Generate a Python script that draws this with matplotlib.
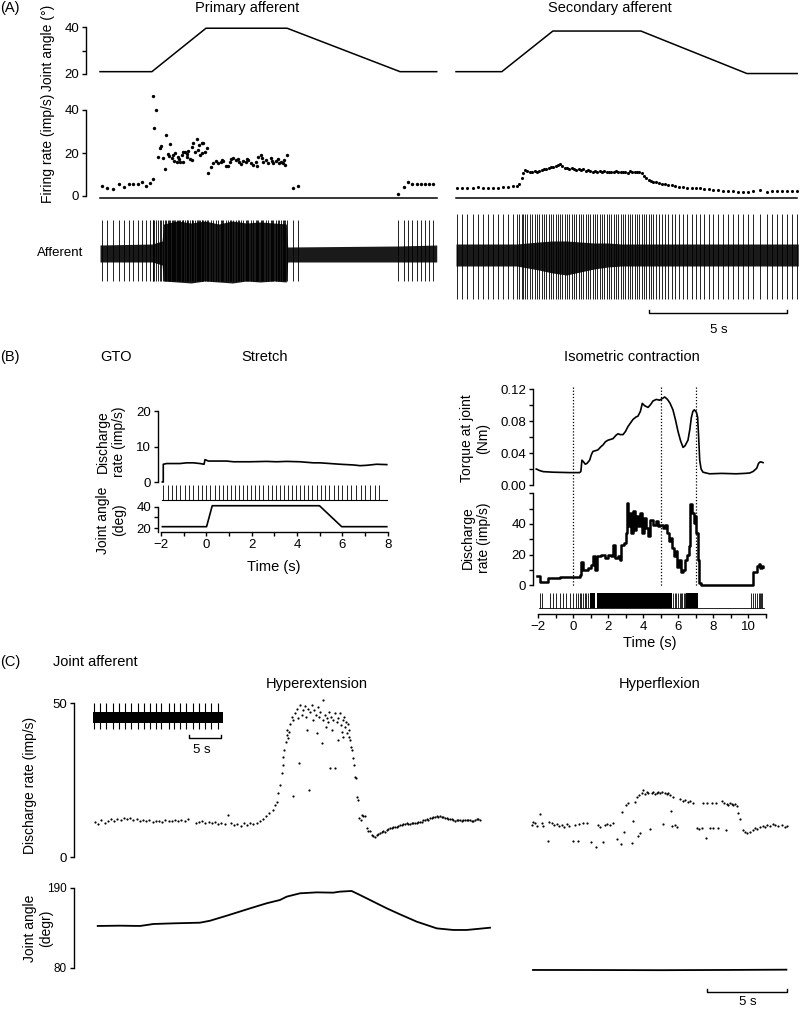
import numpy as np
import matplotlib
matplotlib.use("Agg")
import matplotlib.pyplot as plt
from matplotlib import transforms

plt.rcParams['font.family'] = ['Liberation Sans', 'DejaVu Sans']
plt.rcParams['font.size'] = 9.5

# ---------------- DATA ----------------
# Panel A: joint angle ramps (deg) vs time (s)
prim_angle_t = [0, 1.88, 3.84, 6.78, 10.87, 12.2]
prim_angle = [21, 21, 39.6, 39.6, 21, 21]
sec_angle_t = [0, 1.66, 3.51, 6.70, 10.54, 12.36]
sec_angle = [21, 21, 38.4, 38.4, 20.2, 20.2]

# Panel A: primary afferent instantaneous firing rate (imp/s)
prim_rate_t = [0.06, 0.24, 0.48, 0.69, 0.87, 1.04, 1.21, 1.36, 1.51, 1.67, 1.81, 1.92,
               1.92, 2.02, 1.97, 2.11, 2.17, 2.22, 2.27, 2.37, 2.40, 2.48, 2.54, 2.60, 2.66,
               2.72, 2.78, 2.84, 2.90, 2.96, 3.02, 3.08, 3.14, 3.20, 3.26, 3.32, 3.38, 3.44,
               3.50, 3.56, 3.62, 3.68, 3.74, 3.80, 3.86, 2.51, 3.00, 3.17, 3.35, 3.58, 3.71,
               2.87, 2.69,
               3.93, 4.01, 4.11, 4.21, 4.29, 4.38, 4.47, 4.57, 4.65, 4.74, 4.83, 4.91, 5.01,
               5.10, 5.19, 5.28, 5.38, 5.46, 5.56, 5.64, 5.74, 5.82, 5.92, 6.01, 6.10, 6.18,
               6.28, 6.37, 6.46, 6.55, 6.62, 6.70, 6.76, 4.43, 4.70, 5.05, 5.33, 5.69, 5.87,
               6.23, 6.50, 6.66,
               7.00, 7.19,
               10.81, 11.01, 11.17, 11.32, 11.47, 11.62, 11.78, 11.92, 12.08]
prim_rate = [4.8, 3.9, 3.3, 5.4, 4.3, 5.4, 5.4, 5.7, 6.7, 4.8, 6.0, 8.1,
             46.7, 39.8, 31.5, 18.3, 22.2, 23.4, 17.7, 12.4, 28.5, 19.7, 24.3, 17.8, 19.1,
             19.8, 15.7, 18.3, 15.7, 19.1, 15.7, 20.6, 18.3, 21.1, 17.0, 22.9, 24.5, 20.6,
             26.4, 21.4, 19.1, 24.8, 24.8, 20.6, 22.5, 18.6, 20.4, 19.4, 16.8, 23.5, 19.8,
             17.2, 16.3,
             10.5, 13.6, 15.2, 16.1, 15.2, 15.7, 16.4, 14.1, 14.1, 17.2, 17.5, 16.7, 17.0,
             14.9, 16.3, 16.0, 16.7, 15.2, 14.4, 16.0, 18.3, 19.1, 16.0, 16.7, 15.5, 17.5,
             15.2, 16.3, 17.0, 16.0, 15.2, 14.4, 19.1, 16.9, 15.8, 15.6, 17.4, 14.0, 17.6,
             16.5, 15.4, 16.6,
             3.6, 4.8,
             0.8, 4.0, 6.5, 5.6, 5.4, 5.4, 5.4, 5.4, 5.6]

# Panel A: secondary afferent instantaneous firing rate (imp/s)
sec_rate_t = [0.05, 0.23, 0.41, 0.60, 0.79, 0.97, 1.15, 1.33, 1.51, 1.69, 1.87, 2.05,
              2.20, 2.29, 2.38, 2.44, 2.50, 2.58, 2.68, 2.77, 2.85, 2.93, 3.02, 3.10, 3.19,
              3.27, 3.36, 3.44, 3.53, 3.61, 3.70, 3.77, 3.85, 3.94, 4.02, 4.11, 4.19, 4.28,
              4.36, 4.44, 4.53, 4.61, 4.70, 4.78, 4.87, 4.95, 5.04, 5.12, 5.21, 5.29, 5.37,
              5.46, 5.54, 5.63, 5.71, 5.80, 5.88, 5.97, 6.05, 6.14, 6.22, 6.30, 6.39, 6.47,
              6.56, 6.64, 6.73, 6.81, 6.90, 6.98, 7.07, 7.15, 7.25, 7.34, 7.45, 7.57, 7.69,
              7.81, 7.93, 8.09, 8.24, 8.38, 8.54, 8.70, 8.84, 9.00, 9.15, 9.32, 9.50, 9.69,
              9.87, 10.05, 10.23, 10.41, 10.59, 10.77, 11.01, 11.26, 11.44, 11.62, 11.80,
              11.98, 12.16, 12.34]
sec_rate = [3.9, 3.6, 3.6, 3.9, 4.0, 3.9, 3.9, 3.9, 3.9, 4.0, 4.3, 4.7,
            4.8, 5.6, 8.2, 10.5, 12.1, 11.8, 11.3, 11.0, 11.5, 11.2, 11.8, 11.9, 12.4,
            12.7, 12.9, 13.3, 13.6, 14.1, 14.6, 15.0, 14.0, 13.2, 12.9, 12.6, 13.0, 12.6,
            12.2, 12.7, 12.1, 12.4, 11.8, 12.1, 11.5, 11.2, 11.6, 11.3, 11.5, 11.2, 11.6,
            11.3, 11.0, 11.3, 11.2, 11.5, 11.2, 11.2, 11.0, 11.3, 10.9, 11.5, 11.0, 11.2,
            11.0, 11.0, 10.5, 9.3, 8.2, 7.4, 7.0, 6.7, 6.4, 6.0, 5.7, 5.6, 5.3,
            5.1, 4.8, 4.3, 4.2, 3.9, 3.7, 3.7, 3.6, 3.4, 3.1, 2.8, 2.6, 2.5,
            2.5, 2.5, 2.0, 2.0, 1.9, 2.2, 2.6, 2.0, 2.2, 2.3, 2.3,
            2.5, 2.3, 2.2]

# Panel A: afferent recording envelopes (background noise, px-equivalent units)
prim_env_t = [0, 1.9, 2.25, 2.3, 2.8, 3.3, 3.8, 4.3, 4.8, 5.3, 5.8, 6.3, 6.75, 6.8, 10.8, 12.2]
prim_env_up = [8, 9, 12, 29, 32, 30, 32, 29, 32, 30, 31, 30, 29, 6, 7, 8]
prim_env_dn = [9, 9, 12, 28, 29, 30, 28, 29, 30, 28, 29, 28, 29, 9, 9, 9]
sec_env_t = [0, 2.2, 2.6, 3.0, 3.5, 4.0, 4.5, 5.0, 5.5, 6.0, 12.4]
sec_env_up = [11, 11, 12, 13, 14, 14, 13, 12, 12, 11, 11]
sec_env_dn = [11, 11, 13, 15, 18, 20, 17, 14, 12, 11, 11]

# Panel B left: GTO stretch
bl_rate_t = [-1.94, -1.90, -1.90, -1.75, -1.16, -0.87, -0.57, -0.28, -0.10, -0.06, 0.09,
             0.90, 1.19, 1.93, 2.66, 3.10, 3.54, 4.13, 4.72, 5.01, 5.46, 5.90, 6.49, 6.78,
             7.07, 7.51, 7.96]
bl_rate = [0, 0, 5.0, 5.2, 5.2, 5.4, 5.4, 5.2, 5.0, 6.3, 5.9, 5.9, 5.7, 5.7, 5.8, 5.7,
           5.8, 5.7, 5.4, 5.4, 5.2, 5.0, 4.8, 4.6, 4.7, 5.0, 4.9]
bl_spikes = [-1.90, -1.71, -1.52, -1.33, -1.14, -0.95, -0.76, -0.57, -0.38, -0.19, 0.00,
             0.18, 0.36, 0.54, 0.72, 0.90, 1.08, 1.26, 1.44, 1.62, 1.80, 1.98, 2.16, 2.34,
             2.52, 2.70, 2.88, 3.06, 3.24, 3.42, 3.60, 3.78, 3.96, 4.14, 4.32, 4.50, 4.68,
             4.86, 5.04, 5.23, 5.42, 5.61, 5.80, 6.00, 6.20, 6.40, 6.60, 6.81, 7.02, 7.22,
             7.42, 7.62]
bl_angle_t = [-1.94, 0.01, 0.26, 4.99, 5.97, 7.96]
bl_angle = [21.5, 21.5, 40.9, 40.9, 21.5, 21.5]

# Panel B right: isometric contraction
torque_t = [-2.1, -1.9, -1.7, -1.14, -0.2, 0.38, 0.45, 0.51, 0.6, 0.7, 0.8, 0.95, 1.05,
            1.14, 1.3, 1.43, 1.6, 1.71, 1.85, 2.0, 2.15, 2.29, 2.45, 2.57, 2.7, 2.86, 3.0,
            3.14, 3.3, 3.43, 3.6, 3.71, 3.85, 3.96, 4.1, 4.29, 4.45, 4.57, 4.76, 4.95, 5.1,
            5.24, 5.35, 5.43, 5.55, 5.71, 5.85, 6.0, 6.15, 6.29, 6.4, 6.57, 6.68, 6.76,
            6.85, 6.93, 7.05, 7.12, 7.18, 7.24, 7.32, 7.43, 7.8, 8.5, 9.33, 9.8, 10.1,
            10.3, 10.5, 10.6, 10.7, 10.86]
torque = [0.020, 0.018, 0.0167, 0.016, 0.0155, 0.0155, 0.017, 0.031, 0.029, 0.026, 0.027,
          0.031, 0.038, 0.042, 0.043, 0.044, 0.048, 0.050, 0.054, 0.056, 0.057, 0.058,
          0.062, 0.064, 0.063, 0.063, 0.067, 0.073, 0.078, 0.082, 0.085, 0.086, 0.092,
          0.102, 0.099, 0.097, 0.101, 0.105, 0.107, 0.106, 0.108, 0.110, 0.108, 0.106,
          0.102, 0.094, 0.082, 0.067, 0.055, 0.047, 0.049, 0.056, 0.070, 0.084, 0.092,
          0.094, 0.091, 0.085, 0.060, 0.031, 0.020, 0.016, 0.014, 0.0145, 0.014, 0.0145,
          0.015, 0.017, 0.021, 0.027, 0.029, 0.028]
br_rate_t = [-2.06, -1.87, -1.43, -0.76, -0.10, 0.38, 0.48, 0.57, 0.86, 1.05, 1.14, 1.28,
             1.39, 1.62, 1.81, 2.00, 2.19, 2.29, 2.38, 2.57, 2.67, 2.76, 2.90, 3.01, 3.09,
             3.16, 3.24, 3.33, 3.43, 3.52, 3.62, 3.71, 3.81, 3.92, 4.04, 4.19, 4.29, 4.38,
             4.57, 4.72, 4.86, 4.99, 5.14, 5.28, 5.39, 5.49, 5.58, 5.68, 5.77, 5.87, 5.94,
             6.06, 6.15, 6.29, 6.42, 6.53, 6.63, 6.70, 6.80, 6.90, 6.97, 7.05, 7.12, 7.20,
             7.30, 10.29, 10.51, 10.63, 10.70, 10.78, 10.86]
br_rate = [5.9, 2.2, 4.4, 5.1, 5.5, 6.6, 15.4, 9.9, 11.0, 13.2, 18.7, 9.9,
           18.7, 19.8, 17.6, 19.8, 18.7, 26.4, 17.6, 18.7, 16.5, 26.4, 27.5, 34.1, 53.9,
           38.5, 47.3, 34.1, 48.4, 36.3, 45.1, 38.5, 47.3, 34.1, 44.0, 37.4, 31.9, 42.9,
           39.6, 41.8, 38.5, 39.6, 37.4, 39.6, 34.1, 28.6, 30.8, 24.2, 18.7, 22.0, 12.1,
           16.5, 8.8, 9.9, 16.5, 19.8, 25.3, 52.8, 47.3, 40.7, 45.1, 34.1, 16.5, 1.1,
           0.0, 8.8, 12.5, 13.9, 11.0, 12.5, 11.7]
br_spikes = [-1.87, -1.75, -1.33, -1.14, -0.95, -0.76, -0.57, -0.38, -0.19, 0.0, 0.15,
             0.29, 0.38, 0.48, 0.57, 0.67, 0.76, 0.86, 5.71, 5.80, 5.88, 6.02, 6.10, 6.17,
             6.25, 6.33, 6.40, 10.19, 10.29, 10.38, 10.51, 10.63, 10.70, 10.76, 10.82]
br_burst_start = [0.95, 1.39, 6.45]
br_burst_width = [0.33, 4.27, 0.69]
br_markers = [0, 5, 7]

# Panel C: joint afferent (hyperextension / hyperflexion)
hx_t = [0.0, 0.2, 0.4, 0.6, 0.8, 1.0, 1.2, 1.4, 1.6, 1.8, 2.0, 2.2, 2.4, 2.6, 2.8, 3.0,
        3.2, 3.4, 3.6, 3.8, 4.0, 4.2, 4.4, 4.6, 4.8, 5.0, 5.2, 5.4, 5.6, 5.8, 6.3, 6.5,
        6.7, 6.9, 7.1, 7.3, 7.5, 7.7, 7.9, 8.1, 8.3, 8.5, 8.7, 8.9, 9.1, 9.3, 9.5, 9.7,
        9.9, 10.1, 10.3, 10.5, 10.7, 10.9, 11.1, 11.25, 11.35,
        11.46, 11.56, 11.67, 11.73, 11.77, 11.83, 11.92, 11.98, 12.02, 12.08, 12.15, 12.19,
        12.29, 12.35, 12.40, 12.50, 12.60, 12.67, 12.75, 12.81, 12.92, 13.02, 13.13, 13.19,
        13.27, 13.33, 13.40, 13.44, 13.54, 13.65, 13.71, 13.79, 13.85, 13.92, 14.00, 14.06,
        14.17, 14.23, 14.27, 14.38, 14.44, 14.48, 14.58, 14.65, 14.69, 14.75, 14.83, 14.90,
        15.00, 15.00, 15.10, 15.17, 15.21, 15.31, 15.38, 15.42, 15.48, 15.52, 15.58, 15.63,
        15.69, 15.73, 15.79, 15.85, 15.90, 15.94, 16.00, 16.04, 16.15, 16.21, 16.27, 16.31,
        16.35, 16.42, 16.52, 16.60, 16.67, 16.77, 16.88, 16.98, 17.09, 17.19, 17.30, 17.40,
        17.50, 17.60, 17.70, 17.81, 17.92, 18.02, 18.13, 18.23, 18.33, 18.44, 18.54, 18.65,
        18.75, 18.85, 18.96, 19.06, 19.17, 19.27, 19.38, 19.48, 19.58, 19.69, 19.79, 19.90,
        20.00, 20.10, 20.21, 20.31, 20.42, 20.52, 20.63, 20.73, 20.83, 20.94, 21.04, 21.15,
        21.25, 21.35, 21.46, 21.56, 21.67, 21.77, 21.88, 21.98, 22.08, 22.19, 22.29, 22.40,
        22.50, 22.60, 22.71, 22.81, 22.92, 23.02, 23.13, 23.23, 23.33, 23.44, 23.54, 23.65,
        23.75, 23.85, 23.96, 24.06]
hx_rate = [11.3, 10.8, 11.9, 11.0, 11.6, 12.2, 11.8, 12.5, 12.0, 12.6, 12.2, 12.8, 12.1,
           12.4, 11.8, 12.0, 11.6, 11.9, 11.5, 11.8, 11.7, 11.4, 11.9, 11.6, 11.8, 12.1,
           11.7, 12.0, 11.8, 12.3, 10.9, 11.3, 11.8, 11.2, 11.5, 11.0, 11.4, 10.8, 11.1,
           10.7, 13.5, 10.9, 10.4, 10.8, 10.2, 10.9, 10.5, 11.0, 10.6, 11.2, 11.8, 12.4,
           13.2, 14.2, 15.3, 16.9, 18.0,
           20.7, 23.4, 27.2, 29.9, 32.6, 34.7, 37.4, 39.6, 41.2, 38.5, 40.6, 43.3,
           45.5, 19.9, 44.4, 46.6, 48.2, 45.0, 30.6, 49.3, 46.0, 47.6, 48.9, 45.5,
           41.2, 48.2, 21.6, 47.1, 49.3, 44.4, 47.6, 46.0, 40.1, 48.7, 45.5, 47.1,
           36.9, 44.4, 50.9, 46.0, 42.3, 45.0, 43.9, 47.1, 28.8, 45.5, 41.2, 44.4,
           28.8, 46.6, 43.9, 37.9, 45.0, 46.6, 42.8, 40.6, 44.4, 39.0, 45.5, 42.3,
           43.9, 40.1, 43.3, 39.0, 41.2, 37.9, 35.8, 34.7, 32.0, 29.9, 26.1, 25.5,
           19.6, 18.5, 12.6, 12.1, 13.7, 13.4, 13.2, 9.4, 8.6, 8.3, 7.2, 6.7,
           6.5, 7.2, 7.5, 7.8, 8.0, 8.3, 8.1, 8.8, 9.0, 9.4, 9.3, 9.7,
           9.6, 9.9, 10.2, 10.5, 10.3, 10.7, 10.6, 11.0, 10.7, 10.8, 11.1, 11.2,
           10.9, 11.0, 11.3, 11.5, 11.4, 11.9, 12.0, 12.3, 12.1, 12.6, 12.8, 12.9,
           13.1, 13.2, 13.0, 13.4, 13.1, 12.9, 12.7, 12.6, 12.5, 12.3, 12.2, 12.1,
           11.8, 11.9, 12.1, 12.1, 11.8, 11.9, 12.0, 12.1, 11.9, 11.9, 11.8, 11.8,
           12.0, 12.3, 12.2, 12.1]
hf_t = [0.0, 0.08, 0.19, 0.33, 0.5, 0.6, 0.7, 0.98, 1.08, 1.23, 1.37, 1.54, 1.71, 1.85,
        2.0, 2.17, 2.33, 2.58, 2.69, 2.85, 2.96, 3.17, 3.42, 3.69, 3.98, 4.1, 4.25, 4.46,
        4.56, 4.71, 4.88, 5.08, 5.29, 5.56, 5.6, 5.77, 5.88, 6.02, 6.23, 6.33, 6.44, 6.54,
        6.65, 6.71, 6.75, 6.85, 6.96, 7.06, 7.17, 7.27, 7.38, 7.48, 7.58, 7.69, 7.79, 7.9,
        8.0, 8.1, 8.21, 8.31, 8.42, 8.52, 8.63, 8.69, 8.73, 8.83, 8.94, 9.04, 9.25, 9.42,
        9.56, 9.73, 9.88, 10.04, 10.29, 10.46, 10.6, 10.71, 10.85, 10.96, 11.13, 11.23,
        11.33, 11.5, 11.65, 11.85, 12.0, 12.13, 12.17, 12.27, 12.38, 12.48, 12.58, 12.69,
        12.79, 12.9, 13.0, 13.17, 13.31, 13.46, 13.63, 13.79, 13.94, 14.08, 14.25, 14.42,
        14.56, 14.71, 14.88, 15.04, 15.19, 15.4, 15.6, 15.81, 15.92]
hf_rate = [10.4, 11.5, 10.9, 10.1, 14.0, 10.9, 10.1, 5.3, 11.5, 10.9, 10.4, 10.7, 10.1,
           10.4, 9.8, 10.7, 10.2, 5.3, 10.4, 5.3, 10.7, 10.9, 11.1, 5.0, 3.1, 10.4, 9.8,
           5.0, 10.4, 10.7, 10.4, 10.9, 5.8, 4.2, 14.7, 8.2, 16.9, 17.4, 4.7, 11.7, 18.0,
           19.6, 6.8, 20.1, 7.9, 20.7, 21.7, 20.4, 21.2, 20.9, 9.0, 20.7, 21.2, 20.4, 20.9,
           21.2, 20.7, 21.2, 10.7, 20.7, 20.4, 20.9, 20.1, 15.0, 10.2, 19.6, 10.4, 9.8,
           18.7, 18.3, 18.5, 18.0, 18.3, 17.6, 9.3, 9.0, 9.3, 17.6, 6.3, 17.6, 9.3, 17.4,
           9.3, 17.6, 9.3, 18.3, 17.4, 8.8, 17.2, 16.9, 17.4, 17.1, 16.9, 17.2, 16.6, 14.4,
           12.2, 8.8, 8.2, 7.7, 8.2, 8.8, 9.3, 9.0, 9.6, 10.1, 9.6, 10.4, 10.1, 10.7, 10.4,
           10.1, 10.4, 9.8, 10.1]
inset_spikes = [0.2, 1.1, 2.1, 3.2, 4.1, 5.0, 6.0, 7.0, 7.9, 8.9, 9.8, 10.7, 11.8, 12.7,
                13.6, 14.6, 15.6, 16.5, 17.5, 18.5, 19.6]
hx_angle_t = [0.17, 1.56, 2.81, 3.23, 3.64, 4.89, 6.56, 7.19, 8.23, 9.69, 10.73, 11.56,
              11.98, 12.81, 13.86, 14.89, 15.31, 16.04, 16.56, 17.39, 18.23, 19.06, 20.11,
              21.36, 22.39, 23.23, 24.69]
hx_angle = [137.8, 138.2, 137.8, 139.1, 140.5, 141.4, 142.3, 145.0, 151.9, 162.0, 169.0,
            173.5, 178.1, 182.7, 184.0, 183.6, 185.0, 185.9, 180.4, 171.3, 162.1, 153.8,
            143.7, 134.5, 132.3, 132.3, 135.4]
hf_angle_t = [0.06, 4.0, 8.0, 12.0, 15.9]
hf_angle = [77.3, 77.2, 77.0, 77.3, 77.7]

# ---------------- FIGURE ----------------
W, H = 800, 1009
fig = plt.figure(figsize=(W / 100, H / 100), dpi=100)
K = 'black'


def add_ax(box, xmap, ymap):
    l, t, r, b = box
    (px1, v1), (px2, v2) = xmap
    sx = (v2 - v1) / (px2 - px1)
    (py1, w1), (py2, w2) = ymap
    sy = (w2 - w1) / (py2 - py1)
    ax = fig.add_axes([l / W, 1 - b / H, (r - l) / W, (b - t) / H])
    ax.set_xlim(v1 + (l - px1) * sx, v1 + (r - px1) * sx)
    ax.set_ylim(w1 + (b - py1) * sy, w1 + (t - py1) * sy)
    ax.patch.set_alpha(0)
    for s in ax.spines.values():
        s.set_visible(False)
        s.set_linewidth(1.0)
    ax.set_xticks([])
    ax.set_yticks([])
    ax.tick_params(direction='out', length=3, width=1.0, pad=2, labelsize=9.5)
    return ax


def left_axis(ax, lo, hi, major, labels, minor=None, size=9.5):
    ax.spines['left'].set_visible(True)
    ax.spines['left'].set_bounds(lo, hi)
    ax.set_yticks(major)
    ax.set_yticklabels(labels, fontsize=size)
    if minor is not None:
        ax.set_yticks(minor, minor=True)
        ax.tick_params(axis='y', which='minor', direction='out', length=3, width=1.0)


def txt(x, y, s, **kw):
    kw.setdefault('ha', 'center')
    kw.setdefault('va', 'center')
    kw.setdefault('fontsize', 10)
    fig.text(x / W, 1 - y / H, s, **kw)


# ---- Panel A ----
txt(0, 8, '(A)', ha='left', fontsize=10.5)
txt(247, 8, 'Primary afferent', fontsize=10.5)
txt(610, 8, 'Secondary afferent', fontsize=10.5)
txt(48, 48, 'Joint angle (°)', rotation=90)
txt(48, 148, 'Firing rate (imp/s)', rotation=90)
txt(60, 253, 'Afferent', fontsize=9.5)

PXS = 27.6
axA1 = add_ax((86, 18, 440, 82), ((100, 0), (100 + PXS, 1)), ((74, 20), (27.3, 40)))
axA1.plot(prim_angle_t, prim_angle, color=K, lw=1.1)
left_axis(axA1, 20, 40, [20, 40], ['20', '40'], minor=[30])

axA2 = add_ax((450, 18, 800, 82), ((456, 0), (456 + PXS, 1)), ((74, 20), (27.3, 40)))
axA2.plot(sec_angle_t, sec_angle, color=K, lw=1.1)

axA3 = add_ax((86, 95, 440, 202), ((100, 0), (100 + PXS, 1)), ((196, 0), (110, 40)))
axA3.scatter(prim_rate_t, prim_rate, s=6, color=K, linewidths=0)
axA3.plot([0, prim_angle_t[-1]], [-0.95, -0.95], color=K, lw=1.1)
left_axis(axA3, 0, 40, [0, 20, 40], ['0', '20', '40'])

axA4 = add_ax((450, 95, 800, 202), ((456, 0), (456 + PXS, 1)), ((196, 0), (110, 40)))
axA4.scatter(sec_rate_t, sec_rate, s=5, color=K, linewidths=0)
axA4.plot([0, sec_angle_t[-1]], [-0.95, -0.95], color=K, lw=1.1)

axA5 = add_ax((86, 205, 440, 305), ((100, 0), (100 + PXS, 1)), ((253, 0), (153, 100)))
axA5.fill_between(prim_env_t, [-d for d in prim_env_dn], prim_env_up, color='#1a1a1a', lw=0)
axA5.vlines(prim_rate_t, -28, 33, color=K, lw=0.6)

axA6 = add_ax((450, 205, 800, 335), ((456, 0), (456 + PXS, 1)), ((255, 0), (155, 100)))
axA6.fill_between(sec_env_t, [-d for d in sec_env_dn], sec_env_up, color='#1a1a1a', lw=0)
axA6.vlines(sec_rate_t, -44, 41, color=K, lw=0.6)
axA6.plot([7, 7, 12, 12], [-55, -58, -58, -55], color=K, lw=1.0)
txt(719, 330, '5 s', fontsize=9.5)

# ---- Panel B ----
txt(0, 357, '(B)', ha='left', fontsize=10.5)
txt(116, 357, 'GTO', fontsize=10.5)
txt(265, 357, 'Stretch', fontsize=10.5)
txt(632, 357, 'Isometric contraction', fontsize=10.5)

BXL = ((161, -2), (387.7, 8))
axB1 = add_ax((158, 405, 395, 484), BXL, ((482, 0), (411, 20)))
axB1.plot(bl_rate_t, bl_rate, color=K, lw=1.2)
left_axis(axB1, 0, 20, [0, 10, 20], ['0', '10', '20'])
txt(111, 442, 'Discharge\nrate (imp/s)', rotation=90, multialignment='center')

axB2 = add_ax((158, 484, 395, 502), BXL, ((500, 0), (485, 15)))
axB2.vlines(bl_spikes, 0, 15, color=K, lw=0.6)
axB2.plot([-1.94, 7.96], [0, 0], color=K, lw=0.8)

axB3 = add_ax((158, 503, 395, 531.7), BXL, ((528.3, 20), (506.7, 40)))
axB3.plot(bl_angle_t, bl_angle, color=K, lw=1.2)
left_axis(axB3, axB3.get_ylim()[0], 40, [20, 40], ['20', '40'], minor=[30])
axB3.spines['bottom'].set_visible(True)
axB3.spines['bottom'].set_bounds(-2, 8)
axB3.set_xticks([-2, 0, 2, 4, 6, 8])
axB3.set_xticklabels(['−2', '0', '2', '4', '6', '8'], fontsize=9.5)
axB3.set_xticks([-1, 1, 3, 5, 7], minor=True)
axB3.tick_params(axis='x', which='both', direction='out', length=3, width=1.0, pad=2)
txt(274, 567, 'Time (s)', fontsize=10.5)
txt(111, 520, 'Joint angle\n(deg)', rotation=90, multialignment='center')

BXR = ((538, -2), (748, 10))
axB4 = add_ax((533, 383, 768, 487), BXR, ((485, 0), (389, 0.12)))
axB4.plot(torque_t, torque, color=K, lw=1.2)
left_axis(axB4, 0, 0.12, [0, 0.04, 0.08, 0.12], ['0.00', '0.04', '0.08', '0.12'],
          minor=[0.02, 0.06, 0.10])
txt(475.5, 438, 'Torque at joint\n(Nm)', rotation=90, multialignment='center')

axB5 = add_ax((533, 490, 768, 589), BXR, ((585, 0), (524, 40)))
axB5.plot(br_rate_t, br_rate, color=K, lw=1.8, drawstyle='steps-post')
left_axis(axB5, 0, 60, [0, 20, 40], ['0', '20', '40'], minor=[10, 30, 50, 60])
txt(475.5, 538, 'Discharge\nrate (imp/s)', rotation=90, multialignment='center')

axB6 = add_ax((533, 590, 768, 614), BXR, ((614, 0), (590, 24)))
axB6.vlines(br_spikes, 6, 21, color=K, lw=0.6)
axB6.broken_barh(list(zip(br_burst_start, br_burst_width)), (6, 15), color=K, lw=0)
axB6.plot([-1.95, 10.9], [6, 6], color=K, lw=0.6)
axB6.spines['bottom'].set_visible(True)
axB6.spines['bottom'].set_bounds(-2, 11)
axB6.set_xticks([-2, 0, 2, 4, 6, 8, 10])
axB6.set_xticklabels(['−2', '0', '2', '4', '6', '8', '10'], fontsize=9.5)
axB6.set_xticks([-1, 1, 3, 5, 7, 9, 11], minor=True)
axB6.tick_params(axis='x', which='both', direction='out', length=3, width=1.0, pad=2)
txt(650, 643, 'Time (s)', fontsize=10.5)

trB = transforms.blended_transform_factory(axB4.transData, fig.transFigure)
for m in br_markers:
    axB4.plot([m, m], [1 - 387 / H, 1 - 587 / H], transform=trB, color=K, lw=0.9,
              ls=(0, (1, 1.5)), clip_on=False)

# ---- Panel C ----
txt(0, 662, '(C)', ha='left', fontsize=10.5)
txt(53, 662, 'Joint afferent', ha='left', fontsize=10.5)
txt(317, 684, 'Hyperextension', fontsize=10.5)
txt(660, 684, 'Hyperflexion', fontsize=10.5)
txt(30, 785, 'Discharge rate (imp/s)', rotation=90)
txt(38.5, 928, 'Joint angle\n(degr)', rotation=90, multialignment='center')

CPX = 16.0
axC1 = add_ax((74, 695, 495, 860), ((95, 0), (95 + CPX, 1)), ((857, 0), (703, 50)))
axC1.scatter(hx_t, hx_rate, s=2.5, color=K, linewidths=0)
left_axis(axC1, 0, 50, [0, 50], ['0', '50'])

axC2 = add_ax((520, 695, 795, 860), ((532, 0), (532 + CPX, 1)), ((857, 0), (703, 50)))
axC2.scatter(hf_t, hf_rate, s=2.5, color=K, linewidths=0)

axC3 = add_ax((90, 698, 232, 745), ((93, 0), (93 + 6.4, 1)), ((718, 0), (698, 20)))
axC3.fill_between([0, 20.3], [-5.5, -5.5], [5.5, 5.5], color=K, lw=0)
axC3.vlines(inset_spikes, -11, 15, color=K, lw=0.8)
axC3.plot([15, 15, 20, 20], [-17, -20, -20, -17], color=K, lw=1.0)
txt(202, 750, '5 s', fontsize=9.5)

axC4 = add_ax((74, 880, 495, 975), ((95, 0), (95 + CPX, 1)), ((968, 80), (888, 190)))
axC4.plot(hx_angle_t, hx_angle, color=K, lw=1.3)
left_axis(axC4, 80, 190, [80, 190], ['80', '190'], size=8.5)

axC5 = add_ax((520, 880, 795, 1000), ((532, 0), (532 + CPX, 1)), ((968, 80), (888, 190)))
axC5.plot(hf_angle_t, hf_angle, color=K, lw=1.3)
axC5.plot([10.94, 10.94, 15.94, 15.94], [51, 47, 47, 51], color=K, lw=1.0)
txt(748, 1002, '5 s', fontsize=9.5)

fig.savefig('out.png', dpi=100)
